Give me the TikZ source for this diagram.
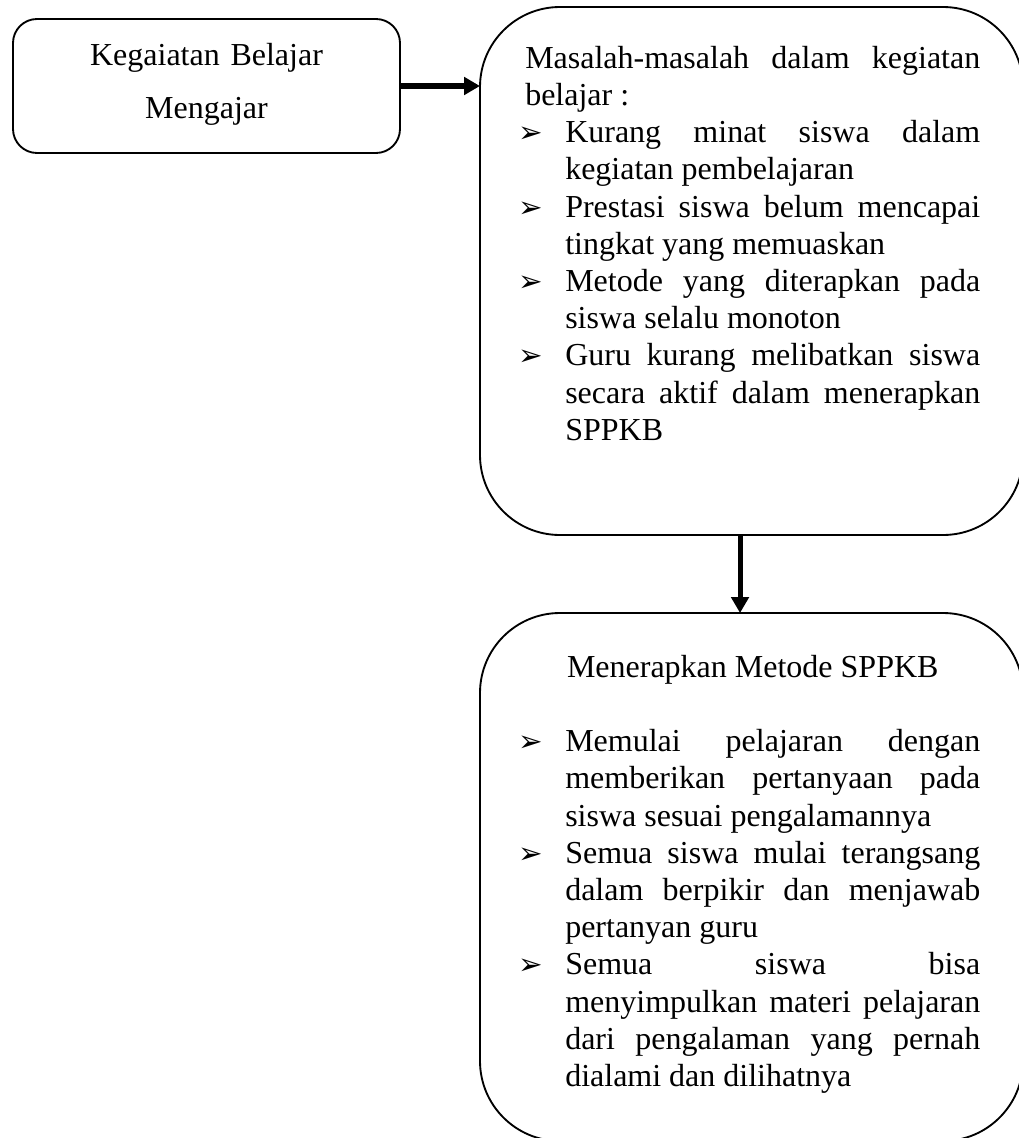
\documentclass[tikz,border=0pt]{standalone}
\usepackage{fontspec}
\setmainfont{Liberation Serif}
\newfontfamily\simbol{DejaVu Sans}
\usetikzlibrary{arrows.meta,positioning}

\setlength{\parindent}{0pt}
\hyphenpenalty=10000
\exhyphenpenalty=10000
\tolerance=10000

\newcommand{\tanda}{{\simbol\fontsize{22}{22}\selectfont ➢}}
\newcommand{\butir}[1]{\par\hangindent=30pt\hangafter=1\noindent\hspace*{-5.25pt}\makebox[35.25pt][l]{\tanda}#1\par}

\begin{document}
\begin{tikzpicture}[x=0.75pt, y=-0.75pt,
	kotak/.style = {draw, line width=1.4pt, rounded corners=60pt, minimum width=407.25pt, minimum height=396pt, inner sep=0pt, outer sep=0pt},
	teks/.style = {anchor=north west, inner sep=0pt, text width=341.25pt, align=justify, font=\fontsize{24}{27.9}\selectfont},
	panah/.style = {-{Triangle[length=12pt,width=13pt]}, line width=3.8pt}]
	\useasboundingbox (0,0) rectangle (1019,1138);
	% kotak
	\node[kotak, rounded corners=18pt, minimum width=290.25pt, minimum height=100.5pt] (kba) at (206.5,86) {};
	\node[kotak] (kmasalah) at (751.5,271) {};
	\node[kotak] (kmetode) [below=58.5pt of kmasalah] {};
	% teks
	\node[teks, anchor=north, text width=290.25pt, align=center, font=\fontsize{24}{39.75}\selectfont] (tba) at (206.5,37) {\rule{0pt}{21pt}Kegaiatan Belajar\\Mengajar};
	\node[teks] (tmasalah) at (525,40) {\rule{0pt}{21pt}Masalah-masalah dalam kegiatan\linebreak belajar :
		\butir{Kurang minat siswa dalam\linebreak kegiatan pembelajaran}
		\butir{Prestasi siswa belum mencapai\linebreak tingkat yang memuaskan}
		\butir{Metode yang diterapkan pada\linebreak siswa selalu monoton}
		\butir{Guru kurang melibatkan siswa\linebreak secara aktif dalam menerapkan\linebreak SPPKB}};
	\node[teks] (tmetode) at (525,649) {{\centering\rule{0pt}{21pt}Menerapkan Metode SPPKB\par}
		\vspace{27.9pt}
		\butir{Memulai pelajaran dengan\linebreak memberikan pertanyaan pada\linebreak siswa sesuai pengalamannya}
		\butir{Semua siswa mulai terangsang\linebreak dalam berpikir dan menjawab\linebreak pertanyan guru}
		\butir{Semua siswa bisa\linebreak menyimpulkan materi pelajaran\linebreak dari pengalaman yang pernah\linebreak dialami dan dilihatnya}};
	% panah
	\draw[panah] (kba.east) -- (kba.east -| kmasalah.west);
	\draw[panah] ([xshift=-8.6pt]kmasalah.south) -- ([xshift=-8.6pt]kmetode.north);
\end{tikzpicture}
\end{document}
